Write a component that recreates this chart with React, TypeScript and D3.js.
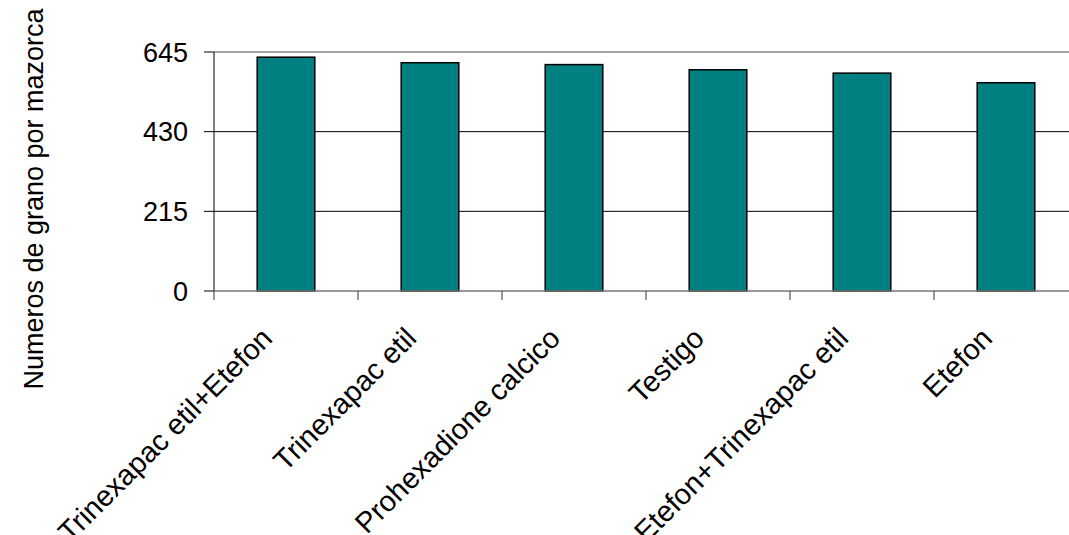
import React from "react";
import * as d3 from "d3";

const categories = [
  "Trinexapac etil+Etefon",
  "Trinexapac etil",
  "Prohexadione calcico",
  "Testigo",
  "Etefon+Trinexapac etil",
  "Etefon",
];
const values = [631, 616, 611, 597, 588, 562];
const yTicks = [0, 215, 430, 645];
const yTitle = "Numeros de grano por mazorca";

export default function App() {
  const W = 1069;
  const H = 535;
  const left = 214;
  const right = 1078;
  const top = 52;
  const bottom = 291;
  const x = d3.scaleBand<string>().domain(categories).range([left, right]).paddingInner(0.6).paddingOuter(0.3);
  const xOuter = d3.scaleBand<string>().domain(categories).range([left, right]);
  const y = d3.scaleLinear().domain([0, 645]).range([bottom, top]);
  const font = "'Liberation Sans', Arial, sans-serif";
  const fs = 27;
  const fsx = 29;
  return (
    <svg width={W} height={H} style={{ position: "absolute", left: 0, top: 0, background: "#fff" }}>
      {yTicks.map((t) => (
        <g key={t}>
          {t !== 0 && (
            <line
              x1={left}
              x2={right}
              y1={y(t)}
              y2={y(t)}
              stroke={t === 645 ? "#888" : "#000"}
              strokeWidth={t === 645 ? 1.5 : 1}
            />
          )}
          <line x1={left - 10} x2={left} y1={y(t)} y2={y(t)} stroke="#000" strokeWidth={1} />
          <text x={left - 26} y={y(t)} dy="0.36em" textAnchor="end" fontFamily={font} fontSize={fs} fill="#000">
            {t}
          </text>
        </g>
      ))}
      {categories.map((c, i) => (
        <rect
          key={c}
          x={x(c)!}
          y={y(values[i])}
          width={x.bandwidth()}
          height={y(0) - y(values[i])}
          fill="#008080"
          stroke="#000"
          strokeWidth={1.5}
        />
      ))}
      <line x1={left} x2={left} y1={top} y2={bottom} stroke="#000" strokeWidth={1} />
      <line x1={left} x2={right} y1={bottom} y2={bottom} stroke="#777" strokeWidth={1.5} />
      {categories.map((c) => (
        <line
          key={"t" + c}
          x1={xOuter(c)!}
          x2={xOuter(c)!}
          y1={bottom}
          y2={bottom + 9}
          stroke="#333"
          strokeWidth={1}
        />
      ))}
      {categories.map((c) => {
        const cx = xOuter(c)! + xOuter.bandwidth() / 2;
        return (
          <text
            key={"l" + c}
            transform={`translate(${cx - 12},${340}) rotate(-45)`}
            textAnchor="end"
            fontFamily={font}
            fontSize={fsx}
            fill="#000"
          >
            {c}
          </text>
        );
      })}
      <text
        transform={`translate(43,199) rotate(-90)`}
        textAnchor="middle"
        fontFamily={font}
        fontSize={fs}
        fill="#000"
      >
        {yTitle}
      </text>
    </svg>
  );
}
